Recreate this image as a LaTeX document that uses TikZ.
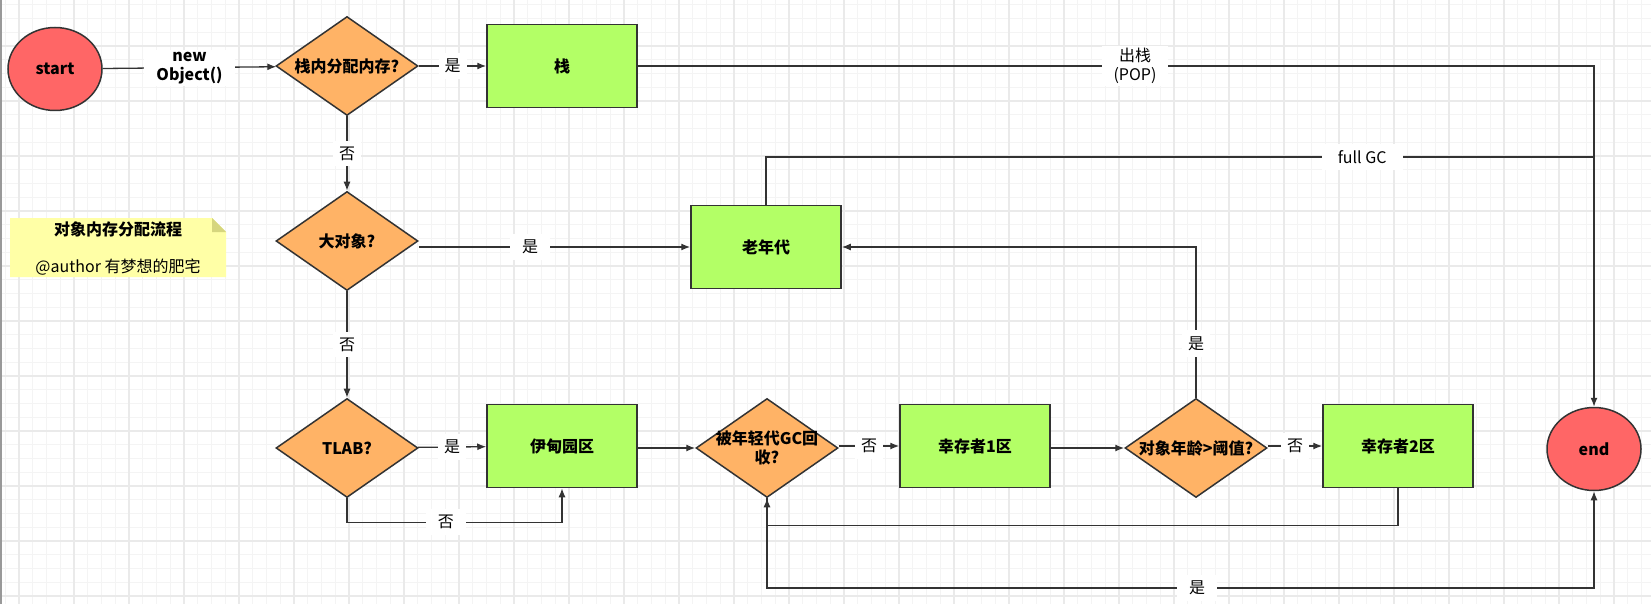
\documentclass[tikz,border=0pt]{standalone}
\usepackage{fontspec}
\setmainfont{Noto Sans CJK SC}
\usetikzlibrary{shapes.geometric,arrows.meta}
\definecolor{lineC}{HTML}{333333}
\definecolor{redF}{HTML}{FF6666}
\definecolor{orgF}{HTML}{FFB366}
\definecolor{grnF}{HTML}{B3FF66}
\definecolor{noteF}{HTML}{FFFFA6}
\definecolor{foldF}{HTML}{D6D67E}
\definecolor{gridA}{HTML}{F4F4F4}
\definecolor{gridB}{HTML}{EAEAEA}
\begin{document}
\begin{tikzpicture}[x=1pt, y=-1pt,
  font=\fontsize{16}{19}\selectfont,
  bold/.style={font=\bfseries\fontsize{16}{19}\selectfont},
  term/.style={ellipse, draw=lineC, line width=1.5pt, fill=redF, minimum width=94pt, minimum height=83pt, bold},
  dec/.style={diamond, draw=lineC, line width=1.5pt, fill=orgF, minimum width=142pt, minimum height=99pt, inner sep=0pt,
    label={[bold, align=center]center:{#1}}},
  box/.style={rectangle, draw=lineC, line width=1.5pt, fill=grnF, minimum width=150pt, minimum height=83pt, bold},
  lbl/.style={fill=white, inner xsep=12pt, inner ysep=6pt, align=center},
  arr/.style={draw=lineC, line width=1.3pt, -{Latex[length=9pt,width=7pt]}},
  wire/.style={draw=lineC, line width=1.3pt}]
\useasboundingbox (0,0) rectangle (1651,604);
\fill[white] (0,0) rectangle (1651,604);
\foreach \i in {0,...,120} \draw[gridA, line width=0.8pt] (5.25+13.75*\i,0) -- ++(0,604);
\foreach \j in {0,...,43} \draw[gridA, line width=0.8pt] (0,4.75+13.75*\j) -- ++(1651,0);
\foreach \i in {0,...,29} \draw[gridB, line width=1.2pt] (19+55*\i,0) -- ++(0,604);
\foreach \j in {0,...,10} \draw[gridB, line width=1.2pt] (0,46+55*\j) -- ++(1651,0);
\draw[gray!80, line width=1.5pt] (0.75,0) -- (0.75,604);
\fill[noteF] (10,218) -- (212,218) -- (226,232) -- (226,277) -- (10,277) -- cycle;
\fill[foldF] (212,218) -- (226,232) -- (212,232) -- cycle;
\node[bold] (notetitle) at (118,229) {对象内存分配流程};
\node (noteauthor) at (118,267) {@author 有梦想的肥宅};
\node[term] (start) at (55,69) {start};
\node[dec={栈内分配内存?}] (d1) at (347,66) {};
\node[box] (stack) at (562,66) {栈};
\node[dec={大对象?}] (d2) at (347,241) {};
\node[box] (old) at (766,247) {老年代};
\node[dec={TLAB?}] (tlab) at (347,448) {};
\node[box] (eden) at (562,446) {伊甸园区};
\node[dec={被年轻代GC回\\收?}] (minor) at (767,448) {};
\node[box] (surv1) at (975,446) {幸存者1区};
\node[dec={对象年龄>阈值?}] (age) at (1196,448) {};
\node[box] (surv2) at (1398,446) {幸存者2区};
\node[term] (finish) at (1594,449) {end};
\coordinate (gcjoin) at (1594,157);
\coordinate (bottom) at (1594,588);
\draw[arr] (start) -- node[lbl, bold, inner ysep=2pt] {new\\Object()} (d1);
\draw[arr] (d1) -- node[lbl, inner xsep=6pt] {是} (stack);
\draw[arr] (stack) -- node[lbl, pos=0.52, inner ysep=2pt] {出栈\\(POP)} (stack -| finish) -- (finish);
\draw[arr] (d1) -- node[lbl, inner xsep=6pt] {否} (d2);
\draw[arr] (old.west -| d2.east) -- node[lbl, pos=0.41] {是} (old);
\draw[wire] (old.north) |- node[lbl, pos=0.86, inner xsep=16pt] {full GC} (gcjoin);
\draw[arr] (d2) -- node[lbl, inner xsep=6pt] {否} (tlab);
\draw[arr] (tlab) -- node[lbl, inner xsep=6pt] {是} (eden);
\draw[arr] (tlab.south) -- ++(0,24) -| node[lbl, pos=0.23] {否} (eden.south);
\draw[arr] (eden.east |- minor) -- (minor);
\draw[arr] (minor.east |- surv1) -- node[lbl, inner xsep=6pt] {否} (surv1);
\draw[arr] (surv1.east |- age) -- (age);
\draw[arr] (age.east |- surv2) -- node[lbl, inner xsep=6pt] {否} (surv2);
\draw[arr] (age.north) |- node[lbl, pos=0.18, inner xsep=6pt] {是} (old.east);
\draw[arr] (surv2.south) -- ++(0,37) -| (minor.south);
\draw[arr] (minor.south) |- node[lbl, pos=0.76] {是} (bottom) -- (finish);
\end{tikzpicture}
\end{document}
